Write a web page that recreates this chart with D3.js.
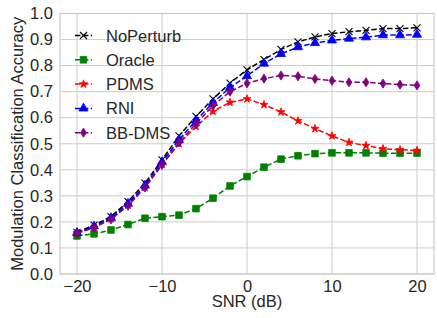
<!DOCTYPE html>
<html>
<head>
<meta charset="utf-8">
<script src="https://cdn.jsdelivr.net/npm/d3@7"></script>
<style>
  body { margin: 0; background: #fff; }
  svg { display: block; font-family: "Liberation Sans", Arial, sans-serif; }
</style>
</head>
<body>
<svg width="437" height="318"></svg>
<script>
// SNR values (dB)
var snr = [-20, -18, -16, -14, -12, -10, -8, -6, -4, -2, 0, 2, 4, 6, 8, 10, 12, 14, 16, 18, 20];

// accuracy per method
var noPerturb = [0.160, 0.188, 0.220, 0.278, 0.349, 0.438, 0.530, 0.605, 0.672, 0.733, 0.784, 0.823, 0.862, 0.891, 0.910, 0.923, 0.930, 0.935, 0.942, 0.942, 0.945];
var oracle    = [0.146, 0.154, 0.169, 0.190, 0.214, 0.220, 0.226, 0.251, 0.291, 0.338, 0.374, 0.410, 0.441, 0.454, 0.462, 0.465, 0.465, 0.465, 0.464, 0.464, 0.464];
var pdms      = [0.158, 0.178, 0.212, 0.265, 0.333, 0.420, 0.500, 0.566, 0.624, 0.659, 0.672, 0.650, 0.622, 0.588, 0.558, 0.530, 0.505, 0.493, 0.481, 0.477, 0.474];
var rni       = [0.158, 0.183, 0.215, 0.270, 0.340, 0.430, 0.515, 0.590, 0.657, 0.716, 0.760, 0.808, 0.845, 0.871, 0.887, 0.897, 0.904, 0.909, 0.917, 0.917, 0.919];
var bbdms     = [0.156, 0.178, 0.210, 0.262, 0.332, 0.419, 0.505, 0.577, 0.646, 0.700, 0.732, 0.750, 0.762, 0.759, 0.749, 0.742, 0.736, 0.736, 0.731, 0.727, 0.724];

var seriesNames = ["NoPerturb", "Oracle", "PDMS", "RNI", "BB-DMS"];
var xTicks = [-20, -10, 0, 10, 20];
var yTicks = [0, 0.1, 0.2, 0.3, 0.4, 0.5, 0.6, 0.7, 0.8, 0.9, 1.0];

var seriesList = [
  {name: seriesNames[0], values: noPerturb, color: "black",   marker: "x"},
  {name: seriesNames[1], values: oracle,    color: "#008000", marker: "square"},
  {name: seriesNames[2], values: pdms,      color: "red",     marker: "star"},
  {name: seriesNames[3], values: rni,       color: "blue",    marker: "triangle"},
  {name: seriesNames[4], values: bbdms,     color: "#800080", marker: "thindiamond"}
];

var fs = "16.5px";
var margin = {left: 60, right: 3, top: 13.5, bottom: 44};
var w = 437, h = 318;
var iw = w - margin.left - margin.right;
var ih = h - margin.top - margin.bottom;

var x = d3.scaleLinear().domain([-22, 22]).range([0, iw]);
var y = d3.scaleLinear().domain([0, 1]).range([ih, 0]);

var svg = d3.select("svg");
var g = svg.append("g").attr("transform", "translate(" + margin.left + "," + margin.top + ")");

// grid
g.append("g").selectAll("line").data(xTicks).enter().append("line")
  .attr("x1", d => x(d)).attr("x2", d => x(d))
  .attr("y1", 0).attr("y2", ih)
  .attr("stroke", "#cccccc").attr("stroke-width", 1);
g.append("g").selectAll("line").data(yTicks).enter().append("line")
  .attr("x1", 0).attr("x2", iw)
  .attr("y1", d => y(d)).attr("y2", d => y(d))
  .attr("stroke", "#cccccc").attr("stroke-width", 1);

// frame
g.append("rect").attr("x", 0).attr("y", 0).attr("width", iw).attr("height", ih)
  .attr("fill", "none").attr("stroke", "#cccccc").attr("stroke-width", 1.25);

// axes (ticks hidden, labels only)
var xAxis = g.append("g").attr("transform", "translate(0," + ih + ")")
  .call(d3.axisBottom(x).tickValues(xTicks).tickSize(0).tickPadding(6).tickFormat(d => d < 0 ? "\u2212" + Math.abs(d) : d));
var yAxis = g.append("g")
  .call(d3.axisLeft(y).tickValues(yTicks).tickSize(0).tickPadding(7).tickFormat(d3.format(".1f")));
[xAxis, yAxis].forEach(function (a) {
  a.select(".domain").remove();
  a.selectAll("text").attr("fill", "#262626").style("font-size", fs).style("font-family", "Liberation Sans, Arial, sans-serif");
});

// axis titles
svg.append("text")
  .attr("x", margin.left + x(0)).attr("y", 307)
  .attr("text-anchor", "middle").attr("fill", "#262626").style("font-size", fs)
  .text("SNR (dB)");
svg.append("text")
  .attr("transform", "translate(23," + (margin.top + ih / 2) + ") rotate(-90)")
  .attr("text-anchor", "middle").attr("fill", "#262626").style("font-size", fs)
  .text("Modulation Classification Accuracy");

// markers
function markerPath(type) {
  if (type === "x") return "M-3.5,-3.5L3.5,3.5M-3.5,3.5L3.5,-3.5";
  if (type === "square") return d3.symbol().type(d3.symbolSquare).size(44)();
  if (type === "star") return d3.symbol().type(d3.symbolStar).size(20)();
  if (type === "triangle") return d3.symbol().type(d3.symbolTriangle).size(36)();
  if (type === "thindiamond") return "M0,-4.6L2.9,0L0,4.6L-2.9,0Z";
}

function drawMarker(sel, s) {
  sel.attr("d", markerPath(s.marker));
  if (s.marker === "x") {
    sel.attr("fill", "none").attr("stroke", s.color).attr("stroke-width", 1.1);
  } else {
    sel.attr("fill", s.color).attr("stroke", s.color).attr("stroke-width", 0.8);
  }
}

var line = d3.line().x((d, i) => x(snr[i])).y(d => y(d));

seriesList.forEach(function (s) {
  var sg = g.append("g");
  sg.append("path").datum(s.values)
    .attr("d", line)
    .attr("fill", "none").attr("stroke", s.color)
    .attr("stroke-width", 1.5).attr("stroke-dasharray", "5.5,2.4");
  sg.selectAll("path.m").data(s.values).enter().append("path")
    .attr("class", "m")
    .attr("transform", (d, i) => "translate(" + x(snr[i]) + "," + y(d) + ")")
    .each(function () { drawMarker(d3.select(this), s); });
});

// legend
var legend = svg.append("g");
seriesList.forEach(function (s, i) {
  var ly = 35.5 + i * 24.3;
  legend.append("line")
    .attr("x1", 75).attr("x2", 92).attr("y1", ly).attr("y2", ly)
    .attr("stroke", s.color).attr("stroke-width", 1.5).attr("stroke-dasharray", "5.5,2.4");
  legend.append("path")
    .attr("transform", "translate(83.5," + ly + ")")
    .call(function (sel) { drawMarker(sel, s); });
  legend.append("text")
    .attr("x", 106).attr("y", ly + 6)
    .attr("fill", "#262626").style("font-size", fs)
    .text(s.name);
});
</script>
</body>
</html>
